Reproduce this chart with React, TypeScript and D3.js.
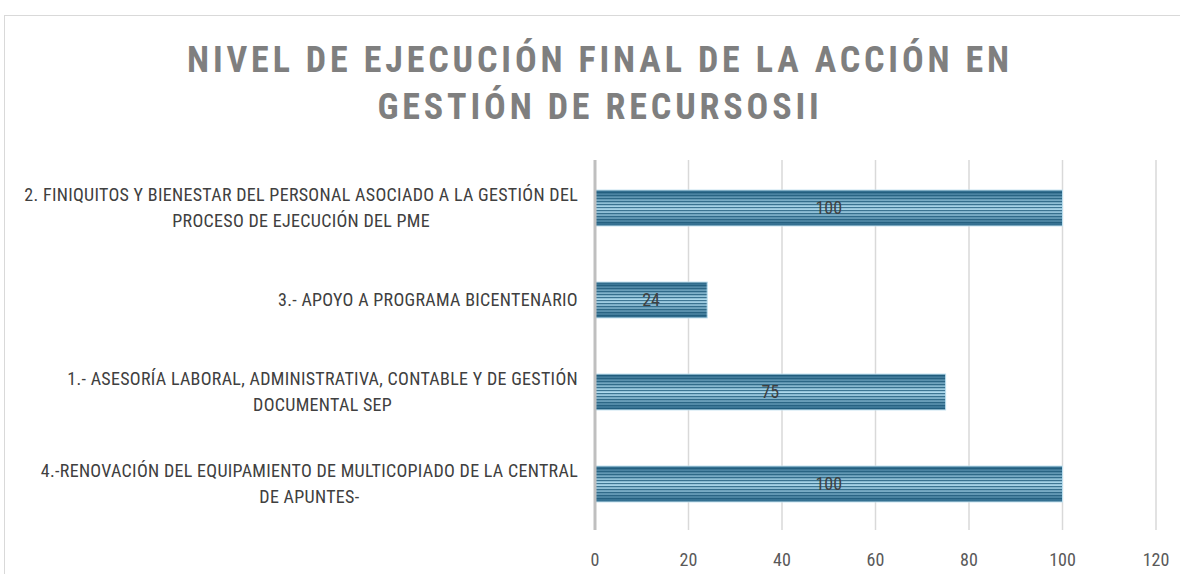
import { useEffect, useRef } from "react";
import * as d3 from "d3";

const categories = [
  "2. FINIQUITOS Y BIENESTAR DEL PERSONAL ASOCIADO A LA GESTIÓN DEL|PROCESO DE EJECUCIÓN  DEL PME",
  "3.- APOYO A PROGRAMA  BICENTENARIO",
  "1.- ASESORÍA LABORAL, ADMINISTRATIVA, CONTABLE Y DE GESTIÓN|DOCUMENTAL SEP",
  "4.-RENOVACIÓN DEL EQUIPAMIENTO DE MULTICOPIADO DE LA CENTRAL|DE APUNTES-",
];
const values = [100, 24, 75, 100];
const xTicks = [0, 20, 40, 60, 80, 100, 120];
const titleLines = ["NIVEL DE EJECUCIÓN FINAL DE LA ACCIÓN EN", "GESTIÓN DE RECURSOSII"];

const W = 1180;
const H = 574;
const FONT = "'Liberation Sans Narrow', 'Roboto Condensed', 'Liberation Sans', sans-serif";

export default function App() {
  const svgRef = useRef<SVGSVGElement | null>(null);

  useEffect(() => {
    const svg = d3.select(svgRef.current);
    svg.selectAll("*").remove();

    const margin = { top: 162, left: 595, right: 24, bottom: 44 };
    const x = d3.scaleLinear().domain([0, 120]).range([margin.left, W - margin.right]);
    const y = d3
      .scaleBand()
      .domain(categories)
      .range([margin.top, H - margin.bottom])
      .paddingInner(0.61)
      .paddingOuter(0.305);

    const defs = svg.append("defs");
    const grad = defs
      .append("linearGradient")
      .attr("id", "barGrad")
      .attr("x1", 0)
      .attr("y1", 0)
      .attr("x2", 0)
      .attr("y2", 1);
    grad.append("stop").attr("offset", "0%").attr("stop-color", "#2a6789");
    grad.append("stop").attr("offset", "50%").attr("stop-color", "#b0dcef");
    grad.append("stop").attr("offset", "100%").attr("stop-color", "#2a6789");

    const pat = defs
      .append("pattern")
      .attr("id", "stripes")
      .attr("patternUnits", "userSpaceOnUse")
      .attr("width", 8)
      .attr("height", 3);
    pat.append("rect").attr("width", 8).attr("height", 1.2).attr("fill", "#1b5676").attr("opacity", 0.75);

    // chart frame
    svg
      .append("rect")
      .attr("x", 4.5)
      .attr("y", 15.5)
      .attr("width", W + 10)
      .attr("height", H + 10)
      .attr("fill", "white")
      .attr("stroke", "#d9d9d9");

    // title
    svg
      .append("g")
      .selectAll("text")
      .data(titleLines)
      .join("text")
      .attr("x", 600)
      .attr("y", (_, i) => 72 + i * 47)
      .attr("text-anchor", "middle")
      .attr("font-family", FONT)
      .attr("font-weight", "bold")
      .attr("font-size", 36)
      .attr("letter-spacing", 3.85)
      .attr("fill", "#7f7f7f")
      .text((d) => d);

    // gridlines
    svg
      .append("g")
      .selectAll("line")
      .data(xTicks.slice(1))
      .join("line")
      .attr("x1", (d) => x(d))
      .attr("x2", (d) => x(d))
      .attr("y1", margin.top - 2)
      .attr("y2", H - margin.bottom)
      .attr("stroke", "#d9d9d9")
      .attr("stroke-width", 1.5);

    // bars
    const bars = svg.append("g");
    categories.forEach((c, i) => {
      const y0 = y(c)!;
      const bw = x(values[i]) - x(0);
      bars
        .append("rect")
        .attr("x", x(0))
        .attr("y", y0)
        .attr("width", bw)
        .attr("height", y.bandwidth())
        .attr("fill", "url(#barGrad)");
      bars
        .append("rect")
        .attr("x", x(0))
        .attr("y", y0)
        .attr("width", bw)
        .attr("height", y.bandwidth())
        .attr("fill", "url(#stripes)")
        .attr("stroke", "#bfe0ef")
        .attr("stroke-width", 1);
      bars
        .append("text")
        .attr("x", (x(0) + x(values[i])) / 2)
        .attr("y", y0 + y.bandwidth() / 2 + 6)
        .attr("text-anchor", "middle")
        .attr("font-family", FONT)
        .attr("font-size", 18)
        .attr("fill", "#404040")
        .text(values[i]);
    });

    // axis line
    svg
      .append("line")
      .attr("x1", x(0))
      .attr("x2", x(0))
      .attr("y1", margin.top - 2)
      .attr("y2", H - margin.bottom)
      .attr("stroke", "#bfbfbf")
      .attr("stroke-width", 3);

    // x tick labels
    svg
      .append("g")
      .selectAll("text")
      .data(xTicks)
      .join("text")
      .attr("x", (d) => x(d))
      .attr("y", 566)
      .attr("text-anchor", "middle")
      .attr("font-family", FONT)
      .attr("font-size", 18)
      .attr("fill", "#595959")
      .text((d) => d);

    // category labels: block right-aligned, lines centered within block
    const labelRight = 578;
    const lineH = 26;
    categories.forEach((c) => {
      const lines = c.split("|");
      const cy = y(c)! + y.bandwidth() / 2;
      const g = svg.append("g");
      const texts = g
        .selectAll("text")
        .data(lines)
        .join("text")
        .attr("y", (_, i) => cy + 6 + (i - (lines.length - 1) / 2) * lineH)
        .attr("text-anchor", "middle")
        .attr("font-family", FONT)
        .attr("font-size", 18)
        .attr("letter-spacing", 0.3)
        .attr("fill", "#404040")
        .text((d) => d);
      let maxW = 0;
      texts.each(function () {
        maxW = Math.max(maxW, (this as SVGTextElement).getComputedTextLength());
      });
      texts.attr("x", labelRight - maxW / 2);
    });
  }, []);

  return (
    <svg
      ref={svgRef}
      width={W}
      height={H}
      style={{ position: "absolute", left: 0, top: 0, background: "white" }}
    />
  );
}
